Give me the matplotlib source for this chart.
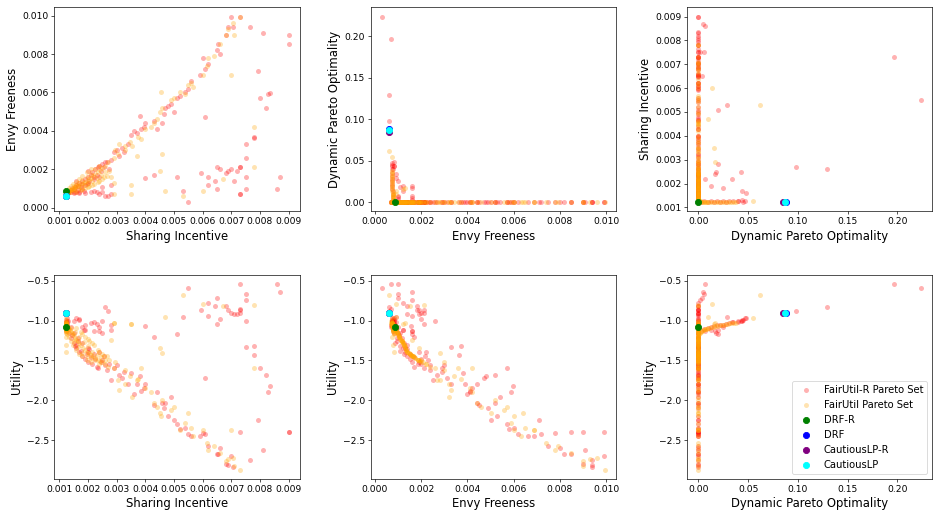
import matplotlib
matplotlib.use("Agg")
import matplotlib.pyplot as plt
from matplotlib.ticker import MultipleLocator
import numpy as np

# ---- data: each tuple = (sharing incentive, envy freeness, dynamic pareto optimality, utility)
red_branch = [
    (0.00124, 0.00078, 0.003, -1.13), (0.00125, 0.00077, 0.006, -1.11),
    (0.00123, 0.00076, 0.010, -1.09), (0.00126, 0.00078, 0.013, -1.08),
    (0.00124, 0.00075, 0.016, -1.07), (0.00125, 0.00074, 0.019, -1.06),
    (0.00123, 0.00075, 0.022, -1.05), (0.00127, 0.00074, 0.025, -1.05),
    (0.00124, 0.00073, 0.028, -1.04), (0.00126, 0.00074, 0.031, -1.03),
    (0.00125, 0.00073, 0.035, -1.02), (0.00128, 0.00075, 0.040, -1.01),
    (0.00124, 0.00075, 0.045, -0.99), (0.00126, 0.00072, 0.047, -0.97),
    (0.00130, 0.00075, 0.044, -1.00), (0.00125, 0.00076, 0.040, -1.02),
]
red_mid = [
    (0.00510, 0.00160, 0.020, -1.17), (0.00530, 0.00090, 0.029, -0.95),
    (0.00280, 0.00120, 0.020, -1.12), (0.00250, 0.00110, 0.018, -1.15),
    (0.00240, 0.00160, 0.017, -1.13), (0.00250, 0.00080, 0.043, -1.00),
    (0.00220, 0.00090, 0.034, -1.02), (0.00190, 0.00120, 0.013, -1.12),
    (0.00180, 0.00100, 0.025, -1.08), (0.00170, 0.00080, 0.044, -0.99),
    (0.00160, 0.00080, 0.048, -0.97), (0.00220, 0.00160, 0.007, -1.13),
    (0.00550, 0.00030, 0.224, -0.59), (0.00730, 0.00070, 0.197, -0.54),
    (0.00260, 0.00060, 0.129, -0.83), (0.00270, 0.00060, 0.098, -0.88),
    (0.00860, 0.00100, 0.007, -0.54), (0.00870, 0.00160, 0.005, -0.64),
    (0.00750, 0.00100, 0.006, -0.66), (0.00650, 0.00100, 0.004, -0.71),
    (0.00750, 0.00160, 0.002, -0.74),
]
red_outliers = [
    (0.00645, 0.00140, 0, -0.82), (0.00620, 0.00120, 0, -0.78),
    (0.00680, 0.00180, 0, -0.82), (0.00730, 0.00210, 0, -0.87),
    (0.00730, 0.00210, 0, -0.90), (0.00700, 0.00200, 0, -0.90),
    (0.00720, 0.00190, 0, -0.92), (0.00595, 0.00180, 0, -0.87),
    (0.00620, 0.00160, 0, -0.94), (0.00690, 0.00190, 0, -0.87),
    (0.00660, 0.00200, 0, -0.98), (0.00650, 0.00210, 0, -1.04),
    (0.00750, 0.00260, 0, -1.00), (0.00400, 0.00155, 0, -1.07),
    (0.00430, 0.00170, 0, -1.20), (0.00230, 0.00080, 0, -1.04),
    (0.00210, 0.00080, 0, -1.03), (0.00280, 0.00070, 0, -1.05),
    (0.00710, 0.00140, 0, -0.92), (0.00730, 0.00070, 0, -0.86),
    (0.00610, 0.00470, 0, -1.72), (0.00780, 0.00370, 0, -1.32),
    (0.00780, 0.00365, 0, -1.43), (0.00750, 0.00330, 0, -1.33),
    (0.00800, 0.00570, 0, -1.59), (0.00820, 0.00520, 0, -1.68),
    (0.00835, 0.00595, 0, -1.82), (0.00830, 0.00590, 0, -1.90),
    (0.00795, 0.00710, 0, -2.25), (0.00810, 0.00910, 0, -2.62),
    (0.00900, 0.00850, 0, -2.40), (0.00765, 0.00940, 0, -2.75),
    (0.00730, 0.00990, 0, -2.40), (0.00900, 0.00900, 0, -2.40),
]
red_curve = [
    (0.00300, 0.00300, 0, -1.56), (0.00290, 0.00290, 0, -1.60),
    (0.00310, 0.00270, 0, -1.68), (0.00320, 0.00310, 0, -1.72),
    (0.00325, 0.00290, 0, -1.64), (0.00340, 0.00330, 0, -1.80),
    (0.00350, 0.00380, 0, -1.66), (0.00360, 0.00400, 0, -1.92),
    (0.00370, 0.00390, 0, -1.80), (0.00380, 0.00480, 0, -1.70),
    (0.00385, 0.00410, 0, -1.88), (0.00395, 0.00420, 0, -1.84),
    (0.00400, 0.00440, 0, -1.80), (0.00430, 0.00450, 0, -2.06),
    (0.00440, 0.00410, 0, -1.90), (0.00460, 0.00440, 0, -2.04),
    (0.00465, 0.00490, 0, -2.10), (0.00470, 0.00520, 0, -2.03),
    (0.00480, 0.00530, 0, -2.20), (0.00490, 0.00540, 0, -1.96),
    (0.00500, 0.00500, 0, -2.25), (0.00510, 0.00570, 0, -2.30),
    (0.00520, 0.00580, 0, -2.36), (0.00540, 0.00600, 0, -2.35),
    (0.00550, 0.00620, 0, -2.42), (0.00560, 0.00660, 0, -2.45),
    (0.00590, 0.00690, 0, -2.45), (0.00600, 0.00780, 0, -2.41),
    (0.00610, 0.00720, 0, -2.42), (0.00620, 0.00750, 0, -2.58),
    (0.00650, 0.00820, 0, -2.68), (0.00655, 0.00850, 0, -2.67),
    (0.00660, 0.00800, 0, -2.60), (0.00680, 0.00900, 0, -2.80),
    (0.00690, 0.00940, 0, -2.81), (0.00700, 0.00990, 0, -2.70),
    (0.00705, 0.00940, 0, -2.84), (0.00250, 0.00230, 0, -1.50),
    (0.00265, 0.00240, 0, -1.62), (0.00275, 0.00200, 0, -1.55),
    (0.00240, 0.00220, 0, -1.40), (0.00230, 0.00170, 0, -1.58),
    (0.00280, 0.00250, 0, -1.74),
]
red_knee = [
    (0.00125, 0.00085, 0, -1.05), (0.00130, 0.00090, 0, -1.10),
    (0.00135, 0.00080, 0, -1.15), (0.00140, 0.00095, 0, -1.22),
    (0.00145, 0.00105, 0, -1.18), (0.00150, 0.00085, 0, -1.28),
    (0.00155, 0.00110, 0, -1.32), (0.00160, 0.00120, 0, -1.35),
    (0.00165, 0.00095, 0, -1.25), (0.00170, 0.00130, 0, -1.40),
    (0.00175, 0.00110, 0, -1.38), (0.00180, 0.00140, 0, -1.44),
    (0.00185, 0.00090, 0, -1.12), (0.00190, 0.00150, 0, -1.48),
    (0.00195, 0.00125, 0, -1.42), (0.00200, 0.00160, 0, -1.52),
    (0.00205, 0.00140, 0, -1.36), (0.00210, 0.00170, 0, -1.46),
    (0.00215, 0.00185, 0, -1.55), (0.00220, 0.00150, 0, -1.42),
    (0.00225, 0.00200, 0, -1.48), (0.00235, 0.00210, 0, -1.60),
    (0.00245, 0.00190, 0, -1.52), (0.00255, 0.00215, 0, -1.45),
    (0.00260, 0.00240, 0, -1.56), (0.00150, 0.00100, 0, -1.16),
    (0.00165, 0.00115, 0, -1.22), (0.00180, 0.00125, 0, -1.28),
    (0.00140, 0.00080, 0, -1.08), (0.00200, 0.00130, 0, -1.34),
    (0.00150, 0.00075, 0, -1.00), (0.00170, 0.00078, 0, -0.98),
    (0.00190, 0.00075, 0, -1.06), (0.00240, 0.00070, 0, -1.08),
    (0.00160, 0.00140, 0, -1.30), (0.00200, 0.00190, 0, -1.40),
]

orange_knee = [
    (0.00122, 0.00070, 0, -1.00), (0.00123, 0.00073, 0, -1.02),
    (0.00125, 0.00076, 0, -1.04), (0.00127, 0.00079, 0, -1.06),
    (0.00129, 0.00082, 0, -1.08), (0.00131, 0.00085, 0, -1.09),
    (0.00134, 0.00088, 0, -1.11), (0.00137, 0.00091, 0, -1.12),
    (0.00140, 0.00094, 0, -1.14), (0.00143, 0.00097, 0, -1.16),
    (0.00147, 0.00100, 0, -1.17), (0.00151, 0.00104, 0, -1.19),
    (0.00155, 0.00108, 0, -1.22), (0.00160, 0.00112, 0, -1.24),
    (0.00165, 0.00116, 0, -1.26), (0.00170, 0.00120, 0, -1.28),
    (0.00176, 0.00125, 0, -1.31), (0.00182, 0.00130, 0, -1.34),
    (0.00188, 0.00135, 0, -1.37), (0.00195, 0.00140, 0, -1.40),
    (0.00202, 0.00148, 0, -1.41), (0.00210, 0.00156, 0, -1.43),
    (0.00218, 0.00165, 0, -1.45), (0.00226, 0.00175, 0, -1.47),
    (0.00234, 0.00185, 0, -1.49), (0.00242, 0.00196, 0, -1.51),
    (0.00250, 0.00208, 0, -1.52), (0.00258, 0.00220, 0, -1.54),
    (0.00140, 0.00085, 0, -1.09), (0.00155, 0.00095, 0, -1.14),
    (0.00170, 0.00105, 0, -1.20), (0.00185, 0.00118, 0, -1.27),
    (0.00200, 0.00128, 0, -1.32), (0.00215, 0.00140, 0, -1.40),
    (0.00230, 0.00155, 0, -1.43), (0.00245, 0.00170, 0, -1.46),
    (0.00260, 0.00185, 0, -1.49), (0.00150, 0.00115, 0, -1.25),
    (0.00165, 0.00130, 0, -1.33), (0.00180, 0.00145, 0, -1.41),
    (0.00195, 0.00160, 0, -1.44), (0.00210, 0.00175, 0, -1.47),
    (0.00225, 0.00200, 0, -1.50), (0.00240, 0.00220, 0, -1.55),
    (0.00270, 0.00240, 0, -1.58), (0.00124, 0.00074, 0, -1.20),
    (0.00124, 0.00078, 0, -1.30), (0.00125, 0.00080, 0, -1.40),
    (0.00160, 0.00085, 0, -1.09), (0.00175, 0.00095, 0, -1.14),
    (0.00190, 0.00105, 0, -1.20), (0.00205, 0.00115, 0, -1.26),
    (0.00220, 0.00125, 0, -1.31), (0.00235, 0.00135, 0, -1.37),
    (0.00250, 0.00150, 0, -1.42), (0.00265, 0.00165, 0, -1.45),
    (0.00275, 0.00190, 0, -1.50), (0.00130, 0.00095, 0, -1.14),
    (0.00135, 0.00105, 0, -1.20), (0.00140, 0.00115, 0, -1.26),
    (0.00148, 0.00125, 0, -1.31), (0.00158, 0.00135, 0, -1.37),
    (0.00168, 0.00150, 0, -1.42), (0.00180, 0.00165, 0, -1.45),
    (0.00195, 0.00185, 0, -1.49), (0.00210, 0.00200, 0, -1.52),
    (0.00180, 0.00100, 0, -1.17), (0.00200, 0.00110, 0, -1.23),
    (0.00215, 0.00120, 0, -1.28), (0.00240, 0.00140, 0, -1.40),
    (0.00255, 0.00160, 0, -1.44),
]
orange_branch = [
    (0.00126, 0.00080, 0.001, -1.17), (0.00125, 0.00080, 0.002, -1.15),
    (0.00125, 0.00079, 0.003, -1.14), (0.00124, 0.00079, 0.004, -1.13),
    (0.00124, 0.00078, 0.005, -1.12), (0.00124, 0.00078, 0.006, -1.115),
    (0.00123, 0.00077, 0.007, -1.11), (0.00123, 0.00077, 0.008, -1.105),
    (0.00123, 0.00076, 0.009, -1.10), (0.00123, 0.00076, 0.010, -1.095),
    (0.00123, 0.00076, 0.012, -1.09), (0.00123, 0.00075, 0.014, -1.08),
    (0.00122, 0.00075, 0.016, -1.075), (0.00122, 0.00075, 0.018, -1.07),
    (0.00122, 0.00074, 0.020, -1.065), (0.00122, 0.00074, 0.022, -1.06),
    (0.00122, 0.00074, 0.024, -1.055), (0.00122, 0.00073, 0.026, -1.05),
    (0.00122, 0.00073, 0.028, -1.045), (0.00122, 0.00073, 0.030, -1.04),
    (0.00122, 0.00073, 0.032, -1.035), (0.00122, 0.00072, 0.034, -1.03),
    (0.00122, 0.00072, 0.036, -1.03), (0.00122, 0.00072, 0.038, -1.025),
]
orange_mid = [
    (0.00125, 0.00072, 0.055, -0.97), (0.00530, 0.00060, 0.062, -0.68),
    (0.00600, 0.00090, 0.014, -0.79), (0.00470, 0.00090, 0.0095, -0.96),
    (0.00350, 0.00120, 0.016, -1.04), (0.00290, 0.00130, 0.017, -1.03),
]
orange_outliers = [
    (0.00780, 0.00420, 0, -1.60), (0.00780, 0.00210, 0, -0.80),
    (0.00670, 0.00150, 0, -0.82), (0.00450, 0.00190, 0, -1.34),
    (0.00460, 0.00280, 0, -1.41), (0.00350, 0.00070, 0, -1.04),
    (0.00290, 0.00070, 0, -1.03), (0.00280, 0.00160, 0, -1.24),
    (0.00370, 0.00270, 0, -1.75), (0.00700, 0.00690, 0, -2.37),
]
orange_curve = [
    (0.00290, 0.00260, 0, -1.60), (0.00295, 0.00300, 0, -1.52),
    (0.00305, 0.00280, 0, -1.75), (0.00310, 0.00330, 0, -1.87),
    (0.00330, 0.00300, 0, -1.62), (0.00345, 0.00340, 0, -1.70),
    (0.00355, 0.00320, 0, -1.96), (0.00375, 0.00370, 0, -1.73),
    (0.00385, 0.00360, 0, -1.60), (0.00400, 0.00410, 0, -1.85),
    (0.00420, 0.00420, 0, -1.90), (0.00430, 0.00440, 0, -2.03),
    (0.00440, 0.00460, 0, -2.08), (0.00450, 0.00500, 0, -2.16),
    (0.00455, 0.00600, 0, -2.20), (0.00460, 0.00520, 0, -2.00),
    (0.00490, 0.00560, 0, -2.12), (0.00500, 0.00570, 0, -2.08),
    (0.00520, 0.00600, 0, -2.37), (0.00540, 0.00590, 0, -2.28),
    (0.00550, 0.00640, 0, -2.16), (0.00560, 0.00650, 0, -2.35),
    (0.00565, 0.00630, 0, -2.45), (0.00600, 0.00690, 0, -2.37),
    (0.00615, 0.00740, 0, -2.54), (0.00620, 0.00780, 0, -2.62),
    (0.00640, 0.00790, 0, -2.58), (0.00660, 0.00850, 0, -2.66),
    (0.00680, 0.00900, 0, -2.76), (0.00690, 0.00930, 0, -2.74),
    (0.00730, 0.00995, 0, -2.87), (0.00710, 0.00900, 0, -2.82),
    (0.00705, 0.00960, 0, -2.72), (0.00330, 0.00320, 0, -1.80),
]

drf_r = (0.00122, 0.00087, 0.000, -1.08)
drf = (0.00122, 0.00062, 0.088, -0.90)
cautious_r = (0.00122, 0.00061, 0.085, -0.905)
cautious = (0.00122, 0.00062, 0.087, -0.90)

metric_names = ["Sharing Incentive", "Envy Freeness", "Dynamic Pareto Optimality", "Utility"]
panels = [(0, 1), (1, 2), (2, 0), (0, 3), (1, 3), (2, 3)]

red = np.array(red_branch + red_mid + red_outliers + red_curve + red_knee)
orange = np.array(orange_knee + orange_branch + orange_mid + orange_outliers + orange_curve)
specials = [(drf_r, "green", "DRF-R"), (drf, "blue", "DRF"),
            (cautious_r, "purple", "CautiousLP-R"), (cautious, "cyan", "CautiousLP")]

plt.rcParams["font.family"] = "DejaVu Sans"
fig, axes = plt.subplots(2, 3, figsize=(939 / 60, 516 / 60), dpi=60)
fig.subplots_adjust(left=0.058, right=0.993, top=0.986, bottom=0.072,
                    wspace=0.29, hspace=0.31)

for ax, (xi, yi) in zip(axes.flat, panels):
    ax.scatter(red[:, xi], red[:, yi], s=36, color="red", alpha=0.3,
               linewidths=0, label="FairUtil-R Pareto Set")
    ax.scatter(orange[:, xi], orange[:, yi], s=36, color="orange", alpha=0.3,
               linewidths=0, label="FairUtil Pareto Set")
    for pt, col, lab in specials:
        ax.scatter([pt[xi]], [pt[yi]], s=55, color=col, label=lab)
    ax.set_xlabel(metric_names[xi], fontsize=14)
    ax.set_ylabel(metric_names[yi], fontsize=14)
    ax.tick_params(labelsize=11)
    if xi == 0:
        ax.xaxis.set_major_locator(MultipleLocator(0.001))
    if yi == 0:
        ax.yaxis.set_major_locator(MultipleLocator(0.001))

axes[1, 2].legend(loc="lower right", fontsize=12)
fig.savefig("out.png", dpi=60)
